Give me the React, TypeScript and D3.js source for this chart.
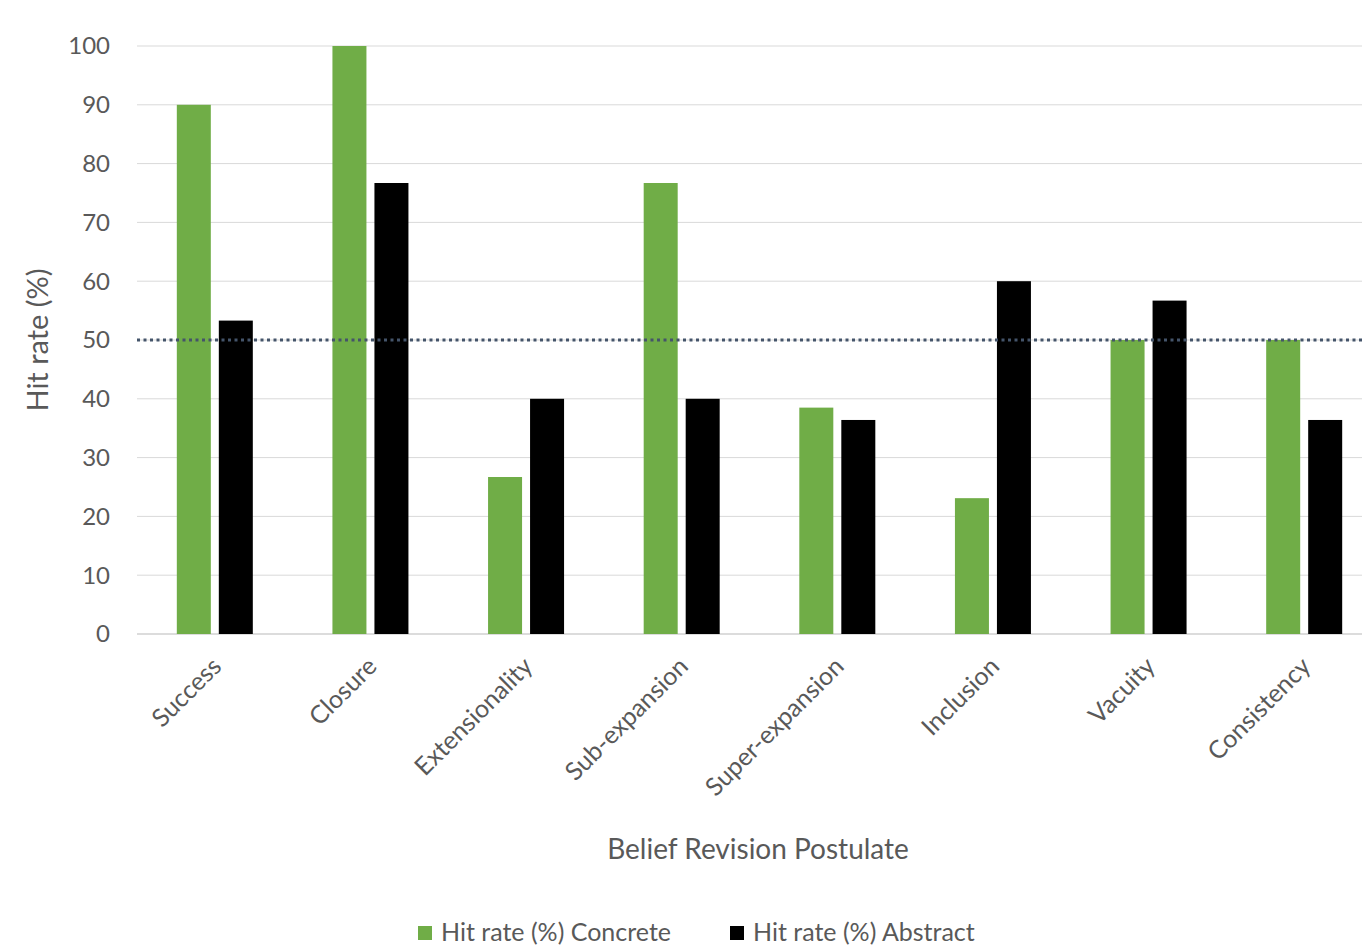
import React, { useEffect, useRef } from "react";
import * as d3 from "d3";

const categories = [
  "Success",
  "Closure",
  "Extensionality",
  "Sub-expansion",
  "Super-expansion",
  "Inclusion",
  "Vacuity",
  "Consistency",
];
const concrete = [90, 100, 26.7, 76.7, 38.5, 23.1, 50, 50];
const abstract = [53.3, 76.7, 40, 40, 36.4, 60, 56.7, 36.4];
const seriesNames = ["Hit rate (%) Concrete", "Hit rate (%) Abstract"];
const seriesColors = ["#70ad47", "#000000"];
const yTicks = [0, 10, 20, 30, 40, 50, 60, 70, 80, 90, 100];
const threshold = 50;

const App = () => {
  const svgRef = useRef<SVGSVGElement | null>(null);

  useEffect(() => {
    const svg = d3.select(svgRef.current);
    svg.selectAll("*").remove();

    const width = 1362,
      height = 947;
    const left = 137,
      right = 1382,
      top = 46,
      bottom = 634;
    const font = "Lato, 'Open Sans', sans-serif";
    const textColor = "#595959";

    const x = d3.scaleBand().domain(categories).range([left, right]);
    const y = d3.scaleLinear().domain([0, 100]).range([bottom, top]);

    svg.attr("width", width).attr("height", height);

    // gridlines
    svg
      .append("g")
      .selectAll("line")
      .data(yTicks)
      .join("line")
      .attr("x1", left)
      .attr("x2", right)
      .attr("y1", (d) => y(d))
      .attr("y2", (d) => y(d))
      .attr("stroke", (d) => (d === 0 ? "#d0d0d0" : "#d9d9d9"))
      .attr("stroke-width", (d) => (d === 0 ? 1.5 : 1));

    // y tick labels
    svg
      .append("g")
      .selectAll("text")
      .data(yTicks)
      .join("text")
      .attr("x", 110)
      .attr("y", (d) => y(d))
      .attr("dy", "0.35em")
      .attr("text-anchor", "end")
      .attr("font-family", font)
      .attr("font-size", 24)
      .attr("fill", textColor)
      .text((d) => d);

    // bars
    const barW = 34,
      gap = 8;
    const series = [concrete, abstract];
    series.forEach((vals, si) => {
      svg
        .append("g")
        .selectAll("rect")
        .data(vals)
        .join("rect")
        .attr("x", (_, i) => {
          const c = x(categories[i])! + x.bandwidth() / 2;
          return si === 0 ? c - gap / 2 - barW : c + gap / 2;
        })
        .attr("y", (d) => y(d))
        .attr("width", barW)
        .attr("height", (d) => y(0) - y(d))
        .attr("fill", seriesColors[si]);
    });

    // 50% reference line
    svg
      .append("line")
      .attr("x1", left)
      .attr("x2", right)
      .attr("y1", y(threshold))
      .attr("y2", y(threshold))
      .attr("stroke", "#44546a")
      .attr("stroke-width", 3)
      .attr("stroke-dasharray", "3 3.5");

    // x labels
    svg
      .append("g")
      .selectAll("text")
      .data(categories)
      .join("text")
      .attr("text-anchor", "end")
      .attr("font-family", font)
      .attr("font-size", 25)
      .attr("fill", textColor)
      .attr("transform", (d) => {
        const cx = x(d)! + x.bandwidth() / 2 + 8;
        return `translate(${cx},${668}) rotate(-45)`;
      })
      .text((d) => d);

    // axis titles
    svg
      .append("text")
      .attr("transform", `translate(48,${y(50)}) rotate(-90)`)
      .attr("text-anchor", "middle")
      .attr("font-family", font)
      .attr("font-size", 29)
      .attr("fill", textColor)
      .text("Hit rate (%)");

    svg
      .append("text")
      .attr("x", 758)
      .attr("y", 859)
      .attr("text-anchor", "middle")
      .attr("font-family", font)
      .attr("font-size", 28)
      .attr("fill", textColor)
      .text("Belief Revision Postulate");

    // legend
    const legendX = [418, 730];
    seriesNames.forEach((name, i) => {
      const g = svg.append("g").attr("transform", `translate(${legendX[i]},926)`);
      g.append("rect").attr("width", 14).attr("height", 14).attr("fill", seriesColors[i]);
      g.append("text")
        .attr("x", 23)
        .attr("y", 7)
        .attr("dy", "0.33em")
        .attr("font-family", font)
        .attr("font-size", 25)
        .attr("fill", textColor)
        .text(name);
    });
  }, []);

  return <svg ref={svgRef} style={{ position: "absolute", left: 0, top: 0 }} />;
};

export default App;
